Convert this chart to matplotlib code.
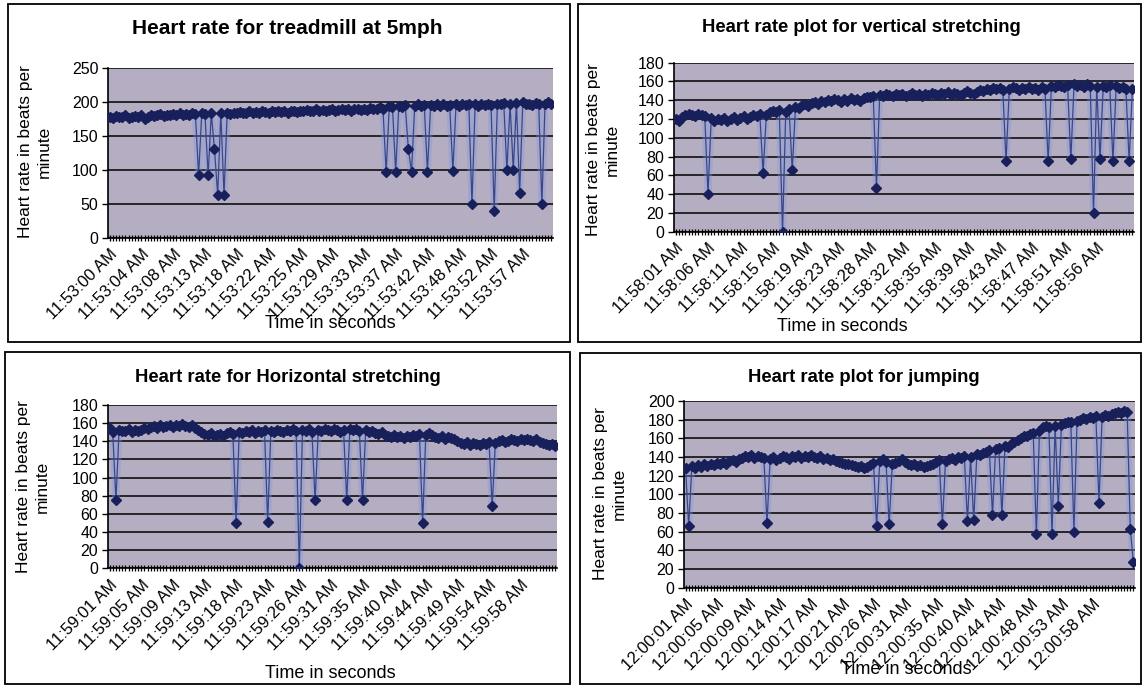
import matplotlib
matplotlib.use("Agg")
import matplotlib.pyplot as plt
from matplotlib.patches import Rectangle

# ---------------- data ----------------
treadmill_labels = ["11:53:00 AM", "11:53:04 AM", "11:53:08 AM", "11:53:13 AM", "11:53:18 AM",
                    "11:53:22 AM", "11:53:25 AM", "11:53:29 AM", "11:53:33 AM", "11:53:37 AM",
                    "11:53:42 AM", "11:53:48 AM", "11:53:52 AM", "11:53:57 AM"]
treadmill_hr = [
    178, 176, 179, 177, 178, 180, 176, 178, 179, 177,
    180, 175, 178, 181, 179, 180, 182, 179, 181, 180,
    182, 180, 183, 181, 182, 180, 183, 182, 92, 183,
    182, 92, 183, 130, 63, 183, 63, 184, 182, 184,
    183, 185, 183, 184, 186, 184, 185, 183, 186, 185,
    184, 186, 185, 187, 185, 186, 184, 187, 186, 185,
    187, 186, 188, 186, 187, 189, 187, 188, 186, 188,
    189, 187, 188, 190, 188, 189, 187, 190, 189, 188,
    190, 188, 191, 189, 190, 192, 190, 97, 193, 192,
    97, 194, 192, 195, 130, 97, 194, 196, 193, 195,
    97, 195, 193, 196, 194, 196, 194, 195, 98, 196,
    194, 196, 195, 197, 50, 196, 194, 197, 195, 196,
    195, 40, 196, 197, 198, 100, 196, 100, 198, 66,
    200, 196, 197, 195, 198, 196, 50, 197, 199, 196,
]

vertical_labels = ["11:58:01 AM", "11:58:06 AM", "11:58:11 AM", "11:58:15 AM", "11:58:19 AM",
                   "11:58:23 AM", "11:58:28 AM", "11:58:32 AM", "11:58:35 AM", "11:58:39 AM",
                   "11:58:43 AM", "11:58:47 AM", "11:58:51 AM", "11:58:56 AM"]
vertical_hr = [
    120, 118, 122, 124, 125, 124, 123, 125, 124, 123,
    40, 121, 118, 120, 119, 121, 118, 120, 122, 119,
    121, 123, 120, 122, 124, 123, 125, 62, 124, 127,
    129, 127, 130, 0, 128, 131, 66, 133, 132, 135,
    136, 134, 137, 138, 136, 139, 138, 140, 139, 141,
    140, 138, 141, 139, 142, 140, 141, 139, 142, 144,
    143, 145, 47, 146, 145, 147, 146, 145, 147, 146,
    147, 145, 146, 148, 146, 147, 145, 147, 146, 148,
    147, 146, 148, 147, 149, 146, 148, 147, 146, 148,
    150, 148, 147, 149, 151, 150, 152, 151, 153, 152,
    153, 151, 75, 152, 154, 153, 151, 153, 152, 154,
    152, 153, 151, 154, 152, 75, 155, 154, 156, 155,
    154, 156, 77, 157, 155, 156, 154, 157, 155, 20,
    154, 77, 155, 154, 156, 75, 155, 153, 154, 152,
    75, 152,
]

horizontal_labels = ["11:59:01 AM", "11:59:05 AM", "11:59:09 AM", "11:59:13 AM", "11:59:18 AM",
                     "11:59:23 AM", "11:59:26 AM", "11:59:31 AM", "11:59:35 AM", "11:59:40 AM",
                     "11:59:44 AM", "11:59:49 AM", "11:59:54 AM", "11:59:58 AM"]
horizontal_hr = [
    155, 150, 75, 152, 151, 151, 153, 150, 152, 151,
    152, 155, 153, 156, 157, 155, 158, 156, 157, 158,
    156, 158, 157, 159, 157, 156, 158, 155, 152, 150,
    148, 147, 149, 146, 147, 148, 146, 149, 150, 148,
    50, 150, 149, 151, 150, 152, 149, 151, 150, 152,
    51, 151, 150, 152, 151, 150, 152, 151, 153, 151,
    0, 152, 151, 153, 150, 75, 152, 151, 153, 152,
    151, 153, 152, 150, 152, 75, 154, 152, 153, 151,
    75, 152, 150, 151, 149, 148, 150, 147, 146, 145,
    147, 145, 146, 144, 146, 145, 147, 146, 148, 50,
    147, 149, 147, 145, 144, 146, 143, 145, 144, 142,
    140, 138, 137, 139, 136, 138, 137, 136, 138, 137,
    139, 69, 138, 140, 141, 139, 140, 142, 141, 140,
    142, 141, 143, 141, 140, 142, 139, 138, 137, 136,
    137, 135,
]

jumping_labels = ["12:00:01 AM", "12:00:05 AM", "12:00:09 AM", "12:00:14 AM", "12:00:17 AM",
                  "12:00:21 AM", "12:00:26 AM", "12:00:31 AM", "12:00:35 AM", "12:00:40 AM",
                  "12:00:44 AM", "12:00:48 AM", "12:00:53 AM", "12:00:58 AM"]
jumping_hr = [
    128, 66, 130, 128, 131, 129, 132, 130, 133, 131,
    134, 132, 135, 133, 136, 137, 135, 138, 139, 141,
    140, 142, 139, 141, 140, 139, 69, 138, 140, 137,
    139, 141, 140, 138, 141, 140, 142, 139, 141, 140,
    142, 140, 139, 141, 138, 139, 137, 138, 136, 135,
    134, 133, 132, 131, 130, 129, 130, 128, 129, 131,
    134, 66, 136, 138, 135, 68, 133, 134, 136, 138,
    135, 133, 131, 132, 130, 131, 129, 130, 131, 133,
    135, 137, 68, 136, 138, 139, 137, 140, 139, 141,
    71, 140, 72, 143, 142, 144, 145, 147, 78, 149,
    150, 78, 152, 151, 154, 156, 158, 160, 162, 163,
    165, 166, 57, 168, 172, 173, 172, 58, 173, 88,
    174, 176, 178, 177, 60, 179, 180, 182, 181, 183,
    182, 184, 91, 183, 185, 184, 186, 187, 188, 187,
    189, 188, 63, 27,
]

titles = ["Heart rate for treadmill at 5mph", "Heart rate plot for vertical stretching",
          "Heart rate for Horizontal stretching", "Heart rate plot for jumping"]
y_max = [250, 180, 180, 200]
y_step = [50, 20, 20, 20]

# ---------------- layout (pixel boxes) ----------------
W, H = 1145, 687
plt.rcParams['font.family'] = ['Liberation Sans', 'DejaVu Sans']

fig = plt.figure(figsize=(W / 100, H / 100), dpi=100)
fig.patch.set_facecolor('white')


def frac_rect(x0, y0, x1, y1):
    return [x0 / W, 1 - y1 / H, (x1 - x0) / W, (y1 - y0) / H]


def ftext(x, y, s, **kw):
    fig.text(x / W, 1 - y / H, s, **kw)


panels = [
    dict(box=(8, 4, 570, 342), plot=(108, 67.7, 553, 237.7), data=treadmill_hr, labels=treadmill_labels,
         title_xy=(287, 28), title_fs=15, ylab_xy=(35, 152), xlab_xy=(330, 324)),
    dict(box=(578, 4, 1141, 342), plot=(674, 62.7, 1134, 231.7), data=vertical_hr, labels=vertical_labels,
         title_xy=(861, 28), title_fs=13.3, ylab_xy=(603, 150), xlab_xy=(842, 326)),
    dict(box=(5, 352, 570, 684), plot=(108, 405, 557, 568.3), data=horizontal_hr, labels=horizontal_labels,
         title_xy=(288, 377), title_fs=13.3, ylab_xy=(33, 487), xlab_xy=(330, 673)),
    dict(box=(580, 353, 1141, 684), plot=(684, 401, 1135, 587.7), data=jumping_hr, labels=jumping_labels,
         title_xy=(864, 377), title_fs=13.3, ylab_xy=(610, 494), xlab_xy=(906, 670)),
]

face = '#B5ADC2'
navy = '#18205C'
line_col = '#3A4688'
halo = '#7D97E0'

for i, p in enumerate(panels):
    bx0, by0, bx1, by1 = p['box']
    fig.patches.append(Rectangle((bx0 / W, 1 - by1 / H), (bx1 - bx0) / W, (by1 - by0) / H,
                                 transform=fig.transFigure, fill=False, edgecolor='black', lw=1.3))

    ax = fig.add_axes(frac_rect(*p['plot']))
    vals = p['data']
    n = len(vals)
    xs = list(range(n))
    ax.set_facecolor(face)
    ax.plot(xs, vals, color=halo, lw=5, alpha=0.35, solid_joinstyle='round', zorder=2)
    ax.plot(xs, vals, color=line_col, lw=0.9, marker='D', markersize=5.5,
            markerfacecolor=navy, markeredgecolor=navy, zorder=3)

    ax.set_xlim(-0.5, n - 0.5)
    ax.set_ylim(0, y_max[i])
    ax.set_yticks(range(0, y_max[i] + 1, y_step[i]))
    ax.yaxis.grid(True, color='black', lw=1.1)
    ax.set_axisbelow(True)

    ax.set_xticks([k * 10 for k in range(len(p['labels']))])
    ax.set_xticklabels(p['labels'], rotation=45, ha='right', rotation_mode='anchor', fontsize=12)
    ax.set_xticks(xs, minor=True)
    ax.tick_params(axis='x', which='major', length=5, width=1, direction='inout', pad=4)
    ax.tick_params(axis='x', which='minor', length=4, width=0.9, direction='inout')
    ax.tick_params(axis='y', length=4, width=1, labelsize=11.5, pad=3)

    for side in ('top', 'right'):
        ax.spines[side].set_visible(False)
    for side in ('left', 'bottom'):
        ax.spines[side].set_color('black')
        ax.spines[side].set_linewidth(1.2)

    ftext(*p['title_xy'], titles[i], ha='center', va='center', fontsize=p['title_fs'], fontweight='bold')
    ftext(*p['ylab_xy'], "Heart rate in beats per\nminute", rotation=90, ha='center', va='center',
          multialignment='center', fontsize=12.5, linespacing=1.35)
    ftext(*p['xlab_xy'], "Time in seconds", ha='center', va='center', fontsize=13)

fig.savefig('out.png', dpi=100, facecolor='white')
